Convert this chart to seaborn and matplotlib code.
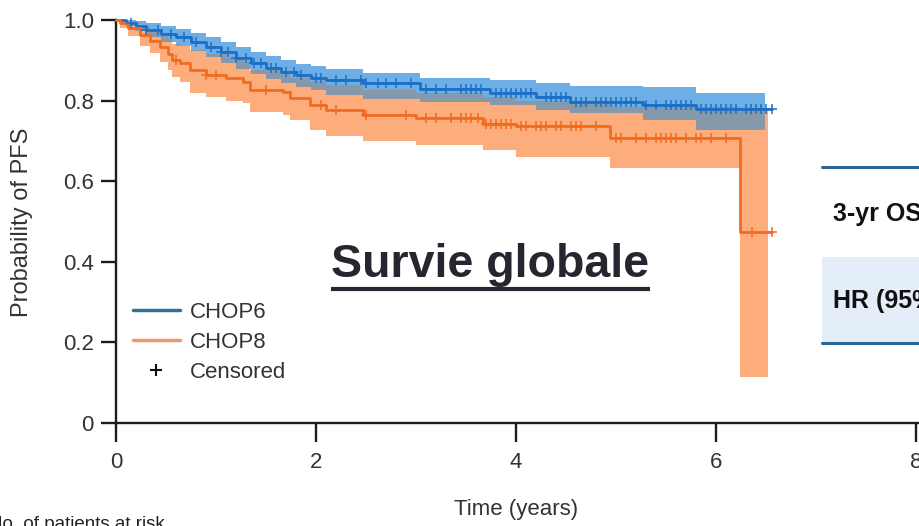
import numpy as np
import pandas as pd
import matplotlib
matplotlib.use("Agg")
import matplotlib.pyplot as plt
import seaborn as sns
from matplotlib.lines import Line2D
from matplotlib.patches import Rectangle

# ---- Kaplan-Meier estimates (step starts, years) ----
chop6_time = [0.0, 0.1, 0.2, 0.3, 0.45, 0.6, 0.75, 0.9, 1.05, 1.2, 1.35, 1.5,
              1.65, 1.8, 1.95, 2.1, 2.47, 3.04, 3.74, 4.2, 4.54, 5.27, 5.8]
chop6_surv = [1.0, 0.993, 0.985, 0.975, 0.965, 0.957, 0.945, 0.932, 0.92, 0.905,
              0.893, 0.882, 0.872, 0.863, 0.856, 0.852, 0.844, 0.829, 0.819, 0.809,
              0.797, 0.789, 0.779]
chop6_upper = [1.0, 1.0, 0.997, 0.992, 0.985, 0.978, 0.968, 0.957, 0.946, 0.932,
               0.921, 0.91, 0.9, 0.892, 0.885, 0.878, 0.868, 0.856, 0.85, 0.844,
               0.836, 0.834, 0.82]
chop6_lower = [1.0, 0.985, 0.972, 0.958, 0.945, 0.935, 0.922, 0.907, 0.894, 0.878,
               0.865, 0.854, 0.844, 0.834, 0.827, 0.815, 0.805, 0.797, 0.79, 0.777,
               0.77, 0.752, 0.727]
chop6_censored = [0.15, 0.3, 0.42, 0.55, 0.68, 0.8, 0.95, 1.05, 1.12, 1.2, 1.3, 1.38,
                  1.45, 1.55, 1.6, 1.7, 1.78, 1.85, 2.0, 2.05, 2.2, 2.3, 2.45, 2.5,
                  2.62, 2.7, 2.8, 2.95, 3.1, 3.2, 3.3, 3.45, 3.5, 3.55, 3.6, 3.65,
                  3.8, 3.85, 3.9, 3.95, 4.0, 4.05, 4.1, 4.15, 4.3, 4.35, 4.4, 4.45,
                  4.5, 4.6, 4.65, 4.7, 4.8, 4.85, 4.9, 4.95, 5.0, 5.05, 5.1, 5.15,
                  5.2, 5.3, 5.4, 5.5, 5.55, 5.6, 5.65, 5.7, 5.75, 5.85, 5.9, 5.95,
                  6.0, 6.05, 6.1, 6.15, 6.2, 6.3, 6.35, 6.4, 6.45, 6.5, 6.56]

chop8_time = [0.0, 0.04, 0.12, 0.24, 0.34, 0.44, 0.52, 0.56, 0.64, 0.74, 0.9, 1.1,
              1.27, 1.34, 1.67, 1.74, 1.94, 2.1, 2.47, 3.0, 3.67, 4.0, 4.94, 6.24]
chop8_surv = [1.0, 0.993, 0.98, 0.963, 0.948, 0.933, 0.915, 0.90, 0.893, 0.876,
              0.864, 0.856, 0.846, 0.826, 0.821, 0.806, 0.789, 0.777, 0.764, 0.757,
              0.741, 0.736, 0.707, 0.474]
chop8_upper = [1.0, 1.0, 0.995, 0.985, 0.975, 0.965, 0.952, 0.94, 0.935, 0.925,
               0.915, 0.905, 0.895, 0.875, 0.871, 0.855, 0.846, 0.838, 0.826, 0.82,
               0.81, 0.80, 0.785, 0.777]
chop8_lower = [1.0, 0.98, 0.96, 0.935, 0.918, 0.895, 0.875, 0.859, 0.845, 0.819,
               0.809, 0.80, 0.794, 0.772, 0.765, 0.752, 0.727, 0.712, 0.70, 0.69,
               0.677, 0.66, 0.633, 0.114]
chop8_censored = [0.6, 0.9, 1.0, 1.5, 2.05, 2.2, 2.5, 2.9, 3.1, 3.2, 3.35, 3.45,
                  3.5, 3.55, 3.62, 3.7, 3.75, 3.8, 3.85, 3.9, 3.95, 4.05, 4.1, 4.2,
                  4.25, 4.3, 4.4, 4.45, 4.55, 4.6, 4.65, 4.8, 5.0, 5.05, 5.2, 5.3,
                  5.4, 5.45, 5.5, 5.55, 5.6, 5.7, 5.8, 5.85, 5.95, 6.1, 6.36, 6.56]

follow_up_end = 6.56
chop6_ci_end = 6.49
chop8_ci_end = 6.52

arms = ["CHOP6", "CHOP8"]
x_ticks = [0, 2, 4, 6, 8]
y_ticks = [0, 0.2, 0.4, 0.6, 0.8, 1.0]
y_tick_labels = ["0", "0.2", "0.4", "0.6", "0.8", "1.0"]

# ---- styling ----
line_colors = {"CHOP6": "#1c6fc4", "CHOP8": "#f26c1f"}
band_colors = {"CHOP6": "#6eaee6", "CHOP8": "#fdac7b"}
overlap_color = "#8699ab"
legend_colors = {"CHOP6": "#336f94", "CHOP8": "#eb9a66"}
axis_color = "#1c1c1c"
text_color = "#333333"

sns.set_theme(style="white")
plt.rcParams["font.family"] = ["Liberation Sans", "DejaVu Sans"]

W, H = 920, 526
fig = plt.figure(figsize=(W / 100, H / 100), dpi=100)
fig.patch.set_facecolor("white")
ax = fig.add_axes([116 / W, 103 / H, 804 / W, 403 / H])
ax.set_facecolor("white")


def step_at(times, values, t):
    idx = np.searchsorted(np.asarray(times), t, side="right") - 1
    return np.asarray(values)[idx]


def band_arrays(times, lower, upper, ci_end):
    t = np.append(times, ci_end)
    lo = np.append(lower, lower[-1])
    hi = np.append(upper, upper[-1])
    return t, lo, hi


# confidence bands
t8, lo8, hi8 = band_arrays(chop8_time, chop8_lower, chop8_upper, chop8_ci_end)
t6, lo6, hi6 = band_arrays(chop6_time, chop6_lower, chop6_upper, chop6_ci_end)
ax.fill_between(t8, lo8, hi8, step="post", color=band_colors["CHOP8"], lw=0, zorder=1)
ax.fill_between(t6, lo6, hi6, step="post", color=band_colors["CHOP6"], lw=0, zorder=2)

# region where both bands overlap
grid = np.unique(np.concatenate([chop6_time, chop8_time]))
grid = np.append(grid[grid < chop6_ci_end], chop6_ci_end)
ov_lo = np.maximum(step_at(chop6_time, chop6_lower, grid), step_at(chop8_time, chop8_lower, grid))
ov_hi = np.minimum(step_at(chop6_time, chop6_upper, grid), step_at(chop8_time, chop8_upper, grid))
ov_hi = np.maximum(ov_hi, ov_lo)
ax.fill_between(grid, ov_lo, ov_hi, step="post", color=overlap_color, lw=0, zorder=3)

# survival curves
rows = []
for arm, times, surv in (("CHOP6", chop6_time, chop6_surv), ("CHOP8", chop8_time, chop8_surv)):
    for ti, si in zip(list(times) + [follow_up_end], list(surv) + [surv[-1]]):
        rows.append({"time": ti, "surv": si, "arm": arm})
curves = pd.DataFrame(rows)
sns.lineplot(data=curves, x="time", y="surv", hue="arm", hue_order=arms,
             palette=line_colors, drawstyle="steps-post", estimator=None,
             sort=False, linewidth=2.0, legend=False, ax=ax, zorder=4)
for line in ax.get_lines():
    line.set_clip_on(False)

# censoring marks
for arm, times, surv, cens in (("CHOP6", chop6_time, chop6_surv, chop6_censored),
                               ("CHOP8", chop8_time, chop8_surv, chop8_censored)):
    ax.plot(cens, step_at(times, surv, np.asarray(cens)), ls="none", marker="+",
            ms=7, mew=1.1, color=line_colors[arm], zorder=5, clip_on=False)

# axes
ax.set_xlim(0, 8.04)
ax.set_ylim(0, 1.0)
for side in ("top", "right"):
    ax.spines[side].set_visible(False)
for side in ("left", "bottom"):
    ax.spines[side].set_color(axis_color)
    ax.spines[side].set_linewidth(1.7)
ax.set_xticks(x_ticks)
ax.set_xticklabels([str(v) for v in x_ticks])
ax.set_yticks(y_ticks)
ax.set_yticklabels(y_tick_labels)
ax.tick_params(axis="y", direction="out", length=11, width=1.7, color=axis_color,
               labelsize=16, labelcolor=text_color, pad=5, left=True)
ax.tick_params(axis="x", direction="out", length=14, width=1.7, color=axis_color,
               labelsize=16, labelcolor=text_color, pad=7, bottom=True)
ax.grid(False)

ax.set_xlabel("Time (years)", fontsize=16, color=text_color)
ax.xaxis.set_label_coords((516 - 116) / 804, (423 - 510) / 403)
ax.xaxis.label.set_va("center")
ax.set_ylabel("Probability of PFS", fontsize=17, color=text_color)
ax.yaxis.set_label_coords((22 - 116) / 804, (423 - 222) / 403)
ax.yaxis.label.set_va("center")

# legend
handles = [Line2D([], [], color=legend_colors["CHOP6"], lw=2.5),
           Line2D([], [], color=legend_colors["CHOP8"], lw=2.5),
           Line2D([], [], ls="none", marker="+", color="#111111", ms=8, mew=1.5)]
leg = ax.legend(handles, ["CHOP6", "CHOP8", "Censored"], loc="upper left",
                bbox_to_anchor=(133 / W, 1 - 302 / H), bbox_transform=fig.transFigure,
                frameon=False, fontsize=16, handlelength=2.1, handletextpad=0.45,
                labelspacing=0.4, borderpad=0, borderaxespad=0)
for txt in leg.get_texts():
    txt.set_color(text_color)

# heading with underline
title = ax.text((490.5 - 116) / 804, (423 - 277) / 403, "Survie globale",
                transform=ax.transAxes, ha="center", va="baseline", fontsize=33.5,
                fontweight="bold", color="#262630", zorder=6)
fig.canvas.draw()
bb = title.get_window_extent(fig.canvas.get_renderer())
underline_y = (H - 289) / H
fig.add_artist(Line2D([bb.x0 / W, bb.x1 / W], [underline_y, underline_y],
                      transform=fig.transFigure, color="#262630", lw=3.0,
                      solid_capstyle="butt"))

# summary table at right
fig.add_artist(Rectangle((822 / W, 1 - 342 / H), (W - 822) / W, 85 / H,
                         transform=fig.transFigure, facecolor="#e4eef8",
                         edgecolor="none", zorder=1))
for y_px in (167, 343):
    fig.add_artist(Line2D([822 / W, 1.0], [1 - y_px / H, 1 - y_px / H],
                          transform=fig.transFigure, color="#2d6496", lw=2.2, zorder=2))
fig.text(833 / W, 1 - 214 / H, "3-yr OS", ha="left", va="center", fontsize=18,
         fontweight="bold", color="#111111")
fig.text(833 / W, 1 - 301 / H, "HR (95% CI)", ha="left", va="center", fontsize=18,
         fontweight="bold", color="#111111")

# number-at-risk heading
fig.text(-11 / W, 1 - 516 / H, "No. of patients at risk", ha="left", va="top",
         fontsize=13.5, color="#222222")

fig.savefig("out.png", dpi=100, facecolor="white")
